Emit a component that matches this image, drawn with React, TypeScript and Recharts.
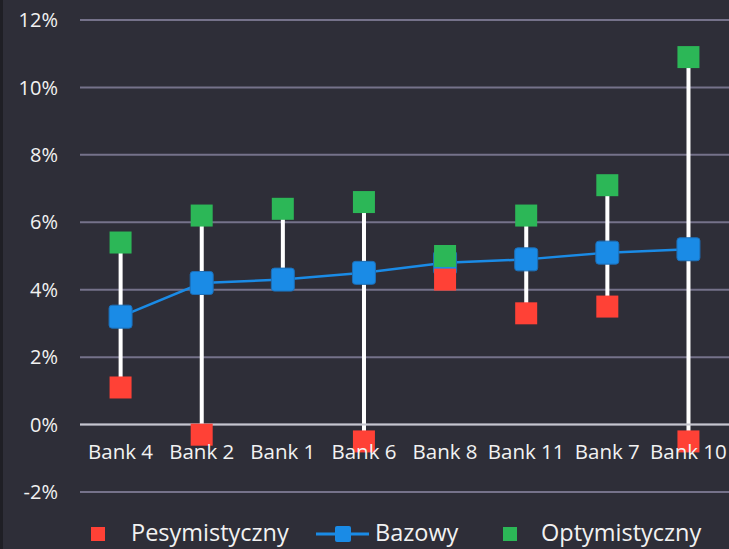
import { ComposedChart, Bar, Line, XAxis, YAxis, CartesianGrid, ReferenceLine } from 'recharts'

const banks = ['Bank 4', 'Bank 2', 'Bank 1', 'Bank 6', 'Bank 8', 'Bank 11', 'Bank 7', 'Bank 10']
const pesymistyczny: (number | null)[] = [1.1, -0.3, null, -0.5, 4.3, 3.3, 3.5, -0.5]
const bazowy = [3.2, 4.2, 4.3, 4.5, 4.8, 4.9, 5.1, 5.2]
const optymistyczny = [5.4, 6.2, 6.4, 6.6, 5.0, 6.2, 7.1, 10.9]
const yTicks = [-2, 0, 2, 4, 6, 8, 10, 12]

const RED = '#ff4136'
const BLUE = '#1a8be6'
const GREEN = '#2cb757'
const BG = '#2e2e38'
const FONT = '"Open Sans", sans-serif'

const data = banks.map((name, i) => {
  const vals = [pesymistyczny[i], bazowy[i], optymistyczny[i]].filter((v): v is number => v != null)
  return {
    name,
    pes: pesymistyczny[i],
    baz: bazowy[i],
    opt: optymistyczny[i],
    range: [Math.min(...vals), Math.max(...vals)],
  }
})

const square = (color: string, size: number, rounded = 0, stroke?: string) => (props: any) => {
  const { cx, cy, index } = props
  if (cx == null || cy == null || props.value == null) return <g key={index} />
  return (
    <rect key={index} x={cx - size / 2} y={cy - size / 2} width={size} height={size}
      rx={rounded} fill={color} stroke={stroke} strokeWidth={stroke ? 1 : 0} />
  )
}

// cienka biała linia min-max
const RangeLine = (props: any) => {
  const { x, y, width, height } = props
  const top = Math.min(y, y + height)
  return <rect x={x + width / 2 - 2} y={top} width={4} height={Math.abs(height)} fill='#ffffff' />
}

const XTick = (props: any) => {
  const { x, y, payload } = props
  return (
    <text x={x} y={y - 33} textAnchor='middle' fill='#f2f2f2' fontSize={20.5} fontFamily={FONT}>
      {payload.value}
    </text>
  )
}

export default function App() {
  return (
    <div style={{ position: 'absolute', left: 0, top: 0, width: 729, height: 549, background: BG, overflow: 'hidden' }}>
      <div style={{ position: 'absolute', left: 0, top: 0, width: 3, height: 549, background: '#1f1f25' }} />
      <ComposedChart width={729} height={549} data={data}
        margin={{ top: 20, right: 0, bottom: 27, left: 0 }}>
        <CartesianGrid vertical={false} stroke='#75728a' strokeWidth={2} />
        <XAxis dataKey='name' axisLine={false} tickLine={false} tickSize={0} tickMargin={0}
          height={30} tick={<XTick />} interval={0} />
        <YAxis domain={[-2, 12]} ticks={yTicks} width={80} axisLine={false} tickLine={false}
          tickSize={0} tickMargin={22} tickFormatter={(v) => `${v}%`}
          tick={{ fill: '#f2f2f2', fontSize: 20, fontFamily: FONT }} />
        <ReferenceLine y={0} stroke='#c6c6ce' strokeWidth={2} />
        <Bar dataKey='range' shape={<RangeLine />} isAnimationActive={false} />
        <Line dataKey='baz' stroke={BLUE} strokeWidth={2.5} isAnimationActive={false}
          dot={square(BLUE, 23, 3, '#1c6fb8')} activeDot={false} />
        <Line dataKey='pes' stroke='none' strokeWidth={0} isAnimationActive={false}
          dot={square(RED, 22)} activeDot={false} />
        <Line dataKey='opt' stroke='none' strokeWidth={0} isAnimationActive={false}
          dot={square(GREEN, 22)} activeDot={false} />
      </ComposedChart>
      <svg width={729} height={40} style={{ position: 'absolute', left: 0, top: 509 }}>
        <rect x={91} y={18} width={14} height={14} fill={RED} />
        <text x={131} y={32} fill='#f2f2f2' fontSize={23.5} fontFamily={FONT}>Pesymistyczny</text>
        <line x1={316} y1={25} x2={369} y2={25} stroke={BLUE} strokeWidth={3} />
        <rect x={335} y={17} width={16} height={16} rx={2} fill={BLUE} />
        <text x={375} y={32} fill='#f2f2f2' fontSize={23.5} fontFamily={FONT}>Bazowy</text>
        <rect x={503} y={18} width={14} height={14} fill={GREEN} />
        <text x={541} y={32} fill='#f2f2f2' fontSize={23.5} fontFamily={FONT}>Optymistyczny</text>
      </svg>
    </div>
  )
}
